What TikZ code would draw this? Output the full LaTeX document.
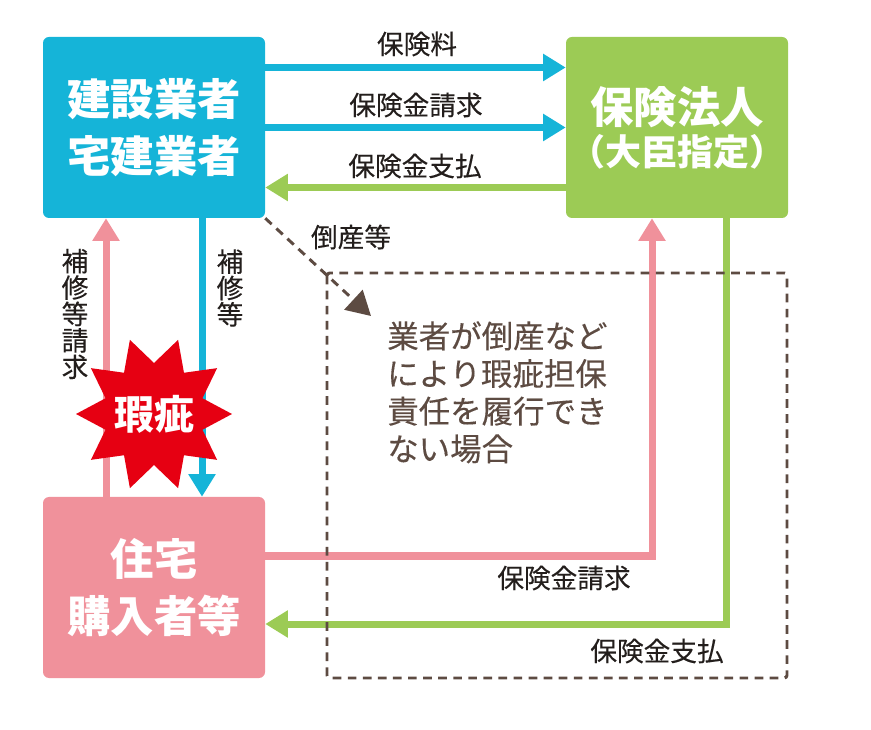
\documentclass[tikz,border=0pt]{standalone}
\usepackage{fontspec}
\setmainfont{Noto Sans CJK JP}
\newfontfamily\labelfont{Noto Sans CJK JP}[FakeBold=0.25]
\usetikzlibrary{arrows.meta,calc,shapes.geometric}
\definecolor{boxblue}{RGB}{21,180,216}
\definecolor{boxgreen}{RGB}{156,203,85}
\definecolor{boxpink}{RGB}{240,145,155}
\definecolor{starred}{RGB}{230,0,18}
\definecolor{dashbrown}{RGB}{93,75,66}
\definecolor{labelink}{RGB}{35,30,28}
\tikzset{
  partybox/.style={rounded corners=4.5pt,minimum width=166.5pt,minimum height=135.75pt,inner sep=0pt,align=center,text=white,font=\fontsize{32.5}{42.75}\selectfont\bfseries},
  flow/.style={line width=5.25pt,-{Triangle[length=17pt,width=19.5pt]}},
  flowlabel/.style={text=labelink,inner sep=0pt,font=\fontsize{20}{19.8}\selectfont\labelfont},
  sidelabel/.style={flowlabel,align=center},
  brokenline/.style={dashbrown,line width=2.2pt,dash pattern=on 6.5pt off 4.8pt},
}
\begin{document}
\begin{tikzpicture}[x=0.75pt,y=0.75pt,yscale=-1,xscale=1]
\useasboundingbox (0,0) rectangle (871,730);

% Boxes
\node [partybox,fill=boxblue] (builder) at (154,127.5) {\raisebox{-1.5pt}{建設業者}\\\raisebox{-1.5pt}{宅建業者}};
\node [partybox,fill=boxgreen] (insurer) at (677,127.5) {\raisebox{-1.5pt}{保険法人}\\[-11.25pt]\raisebox{-1.5pt}{\fontsize{27}{32}\selectfont （大臣指定）}};
\node [partybox,fill=boxpink] (buyer) at (154,587.5) {\raisebox{-1.5pt}{住宅}\\\raisebox{-1.5pt}{購入者等}};

%Straight Lines
\draw [flow,boxblue] ($(builder.east)+(0,-60)$) -- ($(insurer.west)+(0,-60)$);
\draw [flow,boxblue] (builder.east) -- (insurer.west);
\draw [flow,boxgreen] ($(insurer.west)+(0,60)$) -- ($(builder.east)+(0,60)$);
\draw [flow,boxpink] ($(buyer.north)+(-48,0)$) -- ($(builder.south)+(-48,0)$);
\draw [flow,boxblue] ($(builder.south)+(48,0)$) -- ($(buyer.north)+(48,0)$);
%Elbow Lines
\draw [flow,boxpink] ($(buyer.east)+(0,-31.5)$) -| ($(insurer.south)+(-25,0)$);
\draw [flow,boxgreen] ($(insurer.south)+(49,0)$) |- ($(buyer.east)+(0,36.5)$);
%Dashed Lines
\coordinate (failtip) at (371,316);
\draw [brokenline,-{Triangle[length=18pt,width=20pt]}] (builder.south east) -- (failtip);
\draw [brokenline,rounded corners=2pt] (327,273) rectangle (787,678);

% Star
\node [star,star points=10,star point ratio=1.53,shape border rotate=18,minimum size=117pt,inner sep=0pt,fill=starred] (defect) at (154,414) {};
\node [text=white,inner sep=0pt,font=\fontsize{30}{30}\selectfont\bfseries] (defectname) at (defect.center) {瑕疵};

% Text Node
\node [flowlabel] (premium) at (417,44) {保険料};
\node [flowlabel] (claimtop) at (416,105) {保険金請求};
\node [flowlabel] (paytop) at (415,166) {保険金支払};
\node [flowlabel] (failure) at (351,237) {倒産等};
\node [sidelabel] (repairclaim) at (75,314) {補\\修\\等\\請\\求};
\node [sidelabel] (repair) at (230,288) {補\\修\\等};
\node [flowlabel] (claimlow) at (564,578) {保険金請求};
\node [flowlabel] (paylow) at (657,651) {保険金支払};
\node [text=dashbrown,inner sep=0pt,align=left,anchor=north west,font=\fontsize{23.6}{28.2}\selectfont\labelfont] (failnote) at (387,321) {業者が倒産など\\により瑕疵担保\\責任を履行でき\\ない場合};
\end{tikzpicture}
\end{document}
